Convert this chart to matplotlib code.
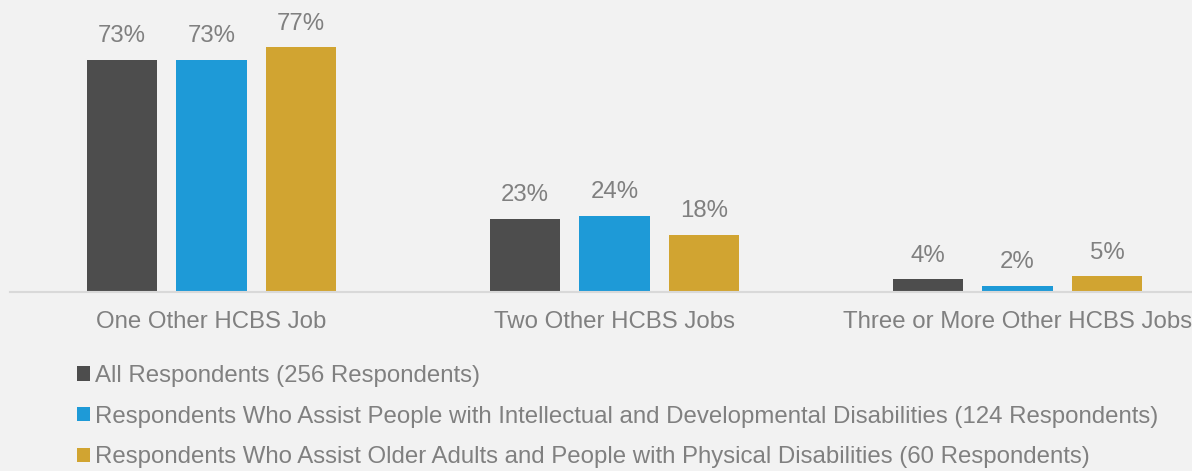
import numpy as np
import matplotlib.pyplot as plt
from matplotlib.patches import Patch

plt.rcParams['font.family'] = ['Liberation Sans', 'DejaVu Sans']

categories = ['One Other HCBS Job', 'Two Other HCBS Jobs', 'Three or More Other HCBS Jobs']
series = [
    'All Respondents (256 Respondents)',
    'Respondents Who Assist People with Intellectual and Developmental Disabilities (124 Respondents)',
    'Respondents Who Assist Older Adults and People with Physical Disabilities (60 Respondents)',
]
all_resp = [73, 23, 4]
idd_resp = [73, 24, 2]
older_resp = [77, 18, 5]

colors = ['#4d4d4d', '#1e9ad7', '#d1a431']
bg = '#f2f2f2'
text_grey = '#808080'

fig = plt.figure(figsize=(11.92, 4.71), dpi=100, facecolor=bg)
ax = fig.add_axes([10 / 1192, 1 - 292 / 471, 1209 / 1192, 292 / 471])
ax.set_facecolor(bg)

x = np.arange(len(categories))
width = 0.174
step = 0.222
for i, (vals, c) in enumerate(zip([all_resp, idd_resp, older_resp], colors)):
    bars = ax.bar(x + (i - 1) * step, vals, width, color=c)
    for b, v in zip(bars, vals):
        ax.annotate(f'{v}%', (b.get_x() + b.get_width() / 2, v),
                    xytext=(0, 9), textcoords='offset points',
                    ha='center', va='bottom', fontsize=17.3, color=text_grey)

ax.set_xlim(-0.5, 2.5)
ax.set_ylim(0, 91.8)
ax.set_xticks(x)
ax.set_xticklabels(categories, fontsize=17.3, color=text_grey)
ax.tick_params(axis='x', length=0, pad=14)
ax.set_yticks([])
for s in ['top', 'right', 'left']:
    ax.spines[s].set_visible(False)
ax.spines['bottom'].set_color('#d9d9d9')
ax.spines['bottom'].set_linewidth(1.5)

# legend stacked under the x labels
handles = [Patch(facecolor=c) for c in colors]
fig.legend(handles, series, loc='upper left', bbox_to_anchor=(77 / 1192, 1 - 365 / 471),
           frameon=False, fontsize=17.3, labelcolor=text_grey,
           handlelength=0.54, handleheight=0.54, handletextpad=0.2,
           labelspacing=0.78, borderpad=0, borderaxespad=0)

fig.savefig('out.png', dpi=100, facecolor=bg)
